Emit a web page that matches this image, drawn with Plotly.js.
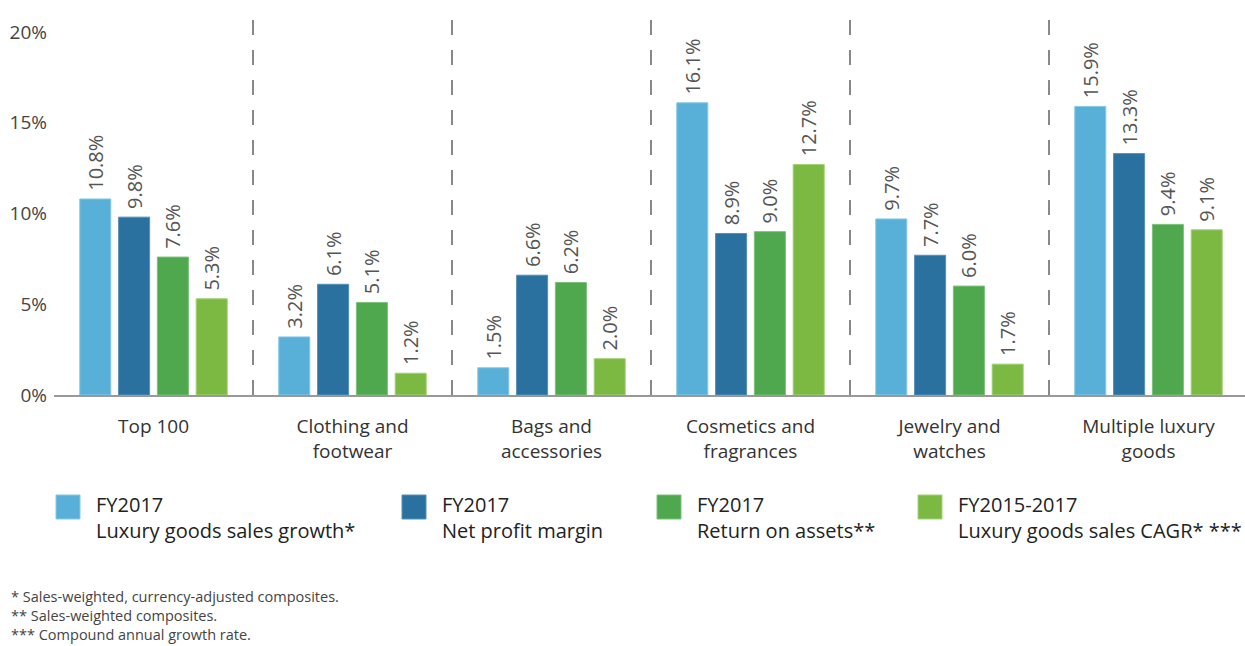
<!DOCTYPE html>
<html>
<head>
<meta charset="utf-8">
<script src="https://cdn.plot.ly/plotly-3.0.1.min.js"></script>
<style>html,body{margin:0;padding:0;background:#fff;}#chart{width:1245px;height:646px;}</style>
</head>
<body>
<div id="chart"></div>
<script>
// ---- data ----
const categories = ["Top 100", "Clothing and<br>footwear", "Bags and<br>accessories", "Cosmetics and<br>fragrances", "Jewelry and<br>watches", "Multiple luxury<br>goods"];
const salesGrowth = [10.8, 3.2, 1.5, 16.1, 9.7, 15.9];
const netProfitMargin = [9.8, 6.1, 6.6, 8.9, 7.7, 13.3];
const returnOnAssets = [7.6, 5.1, 6.2, 9.0, 6.0, 9.4];
const salesCAGR = [5.3, 1.2, 2.0, 12.7, 1.7, 9.1];
const seriesTop = ["FY2017", "FY2017", "FY2017", "FY2015-2017"];
const seriesBottom = ["Luxury goods sales growth*", "Net profit margin", "Return on assets**", "Luxury goods sales CAGR* ***"];
const yTickVals = [0, 5, 10, 15, 20];
const yTickText = ["0%", "5%", "10%", "15%", "20%"];
const footnotes = ["* Sales-weighted, currency-adjusted composites.", "** Sales-weighted composites.", "*** Compound annual growth rate."];

// ---- styles ----
const colors = ["#58b0d8", "#2a71a0", "#4fa84d", "#7bb943"];
const borders = ["#86c8e6", "#5590b8", "#7cc07a", "#a2d176"];
const FONT = "Open Sans, Noto Sans, sans-serif";
const W = 1245, H = 646, L = 54, R = 0, T = 10, B = 251;
const plotW = W - L - R, plotH = H - T - B;
const pxPerCat = 199;
const pxPerUnit = 18.15;
const px2x = p => (p - L) / plotW;
const py2y = p => (H - B - p) / plotH;

const allSeries = [salesGrowth, netProfitMargin, returnOnAssets, salesCAGR];
const xIdx = categories.map((c, i) => i);

const traces = allSeries.map((vals, k) => ({
  type: "bar",
  x: xIdx,
  y: vals,
  name: seriesTop[k] + " " + seriesBottom[k],
  marker: {color: colors[k], line: {color: borders[k], width: 1}},
  text: vals.map(v => " " + v.toFixed(1) + "%"),
  textposition: "outside",
  textangle: -90,
  constraintext: "none",
  cliponaxis: false,
  textfont: {family: FONT, size: 20, color: "#555"},
  hoverinfo: "skip"
}));

const shapes = [];
for (let i = 0; i < categories.length - 1; i++) {
  shapes.push({type: "line", xref: "x", yref: "y", x0: i + 0.5, x1: i + 0.5, y0: 0, y1: 21.0,
    line: {color: "#888", width: 2, dash: "15px,15px"}, layer: "below"});
}

const annotations = [];
const legSqX = [56, 402, 657, 918];
seriesTop.forEach((t, k) => {
  shapes.push({type: "rect", xref: "paper", yref: "paper",
    x0: px2x(legSqX[k]), x1: px2x(legSqX[k] + 24), y0: py2y(519), y1: py2y(495),
    fillcolor: colors[k], line: {color: borders[k], width: 1}});
  annotations.push({xref: "paper", yref: "paper", x: px2x(legSqX[k] + 38), y: py2y(517),
    xanchor: "left", yanchor: "middle", showarrow: false, align: "left",
    text: t + "<br>" + seriesBottom[k],
    font: {family: FONT, size: 20, color: "#222"}});
});
annotations.push({xref: "paper", yref: "paper", x: px2x(9), y: py2y(615.5),
  xanchor: "left", yanchor: "middle", showarrow: false, align: "left",
  text: footnotes.join("<br>"),
  font: {family: FONT, size: 14.5, color: "#444"}});

const layout = {
  width: W, height: H,
  margin: {l: L, r: R, t: T, b: B, pad: 0},
  paper_bgcolor: "#fff", plot_bgcolor: "#fff",
  showlegend: false,
  barmode: "group",
  bargap: 0.22,
  bargroupgap: 0.2,
  xaxis: {
    range: [-0.5, -0.5 + plotW / pxPerCat],
    tickvals: xIdx, ticktext: categories,
    showgrid: false, zeroline: false,
    showline: true, linecolor: "#999", linewidth: 2,
    ticks: "", ticklabelstandoff: 13,
    tickfont: {family: FONT, size: 19, color: "#333"},
    fixedrange: true
  },
  yaxis: {
    range: [0, plotH / pxPerUnit],
    tickvals: yTickVals, ticktext: yTickText,
    showgrid: false, zeroline: false, showline: false,
    ticks: "", ticklabelstandoff: 6,
    tickfont: {family: FONT, size: 19, color: "#444"},
    fixedrange: true
  },
  shapes: shapes,
  annotations: annotations
};

Plotly.newPlot("chart", traces, layout, {displayModeBar: false, staticPlot: true});
</script>
</body>
</html>
